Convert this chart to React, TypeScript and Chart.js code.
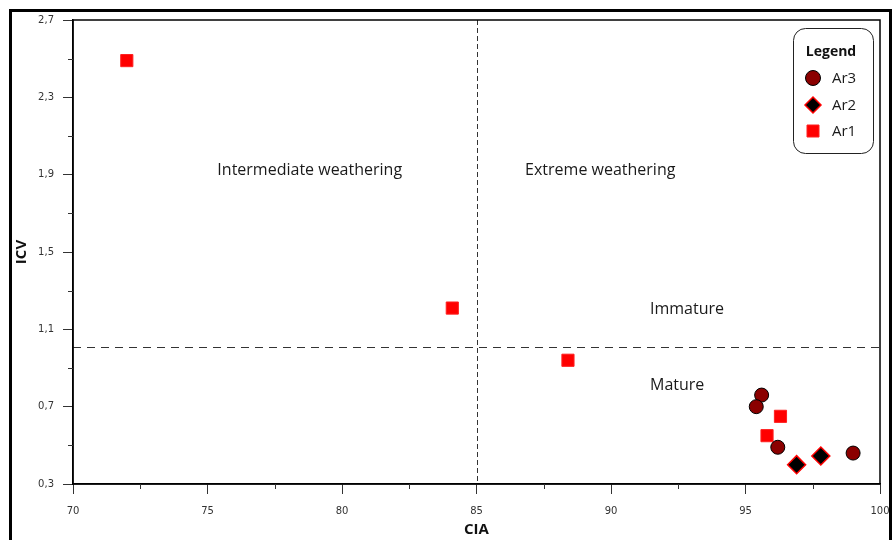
import { useEffect, useRef } from 'react';
import { Chart, registerables } from 'chart.js';

Chart.register(...registerables);

// ---- data ----
const SERIES_NAMES = ['Ar3', 'Ar2', 'Ar1'];
const AR3_CIA = [95.6, 95.4, 96.2, 99.0];
const AR3_ICV = [0.76, 0.70, 0.49, 0.46];
const AR2_CIA = [96.9, 97.8];
const AR2_ICV = [0.40, 0.445];
const AR1_CIA = [72.0, 84.1, 88.4, 96.3, 95.8];
const AR1_ICV = [2.49, 1.21, 0.94, 0.65, 0.55];

const X_MAJOR_TICKS = [70, 75, 80, 85, 90, 95, 100];
const X_TICK_LABELS = ['70', '75', '80', '85', '90', '95', '100'];
const Y_MAJOR_TICKS = [0.3, 0.7, 1.1, 1.5, 1.9, 2.3, 2.7];
const Y_TICK_LABELS = ['0,3', '0,7', '1,1', '1,5', '1,9', '2,3', '2,7'];

const CIA_LIMIT = 85;
const ICV_LIMIT = 1.01;
const ZONE_LABELS = ['Intermediate weathering', 'Extreme weathering', 'Immature', 'Mature'];
const X_TITLE = 'CIA';
const Y_TITLE = 'ICV';
const LEGEND_TITLE = 'Legend';

// major + minor tick values (minor halfway between majors)
const withMinors = (majors: number[]) => {
  const out: number[] = [];
  majors.forEach((v, i) => {
    out.push(v);
    if (i < majors.length - 1) out.push((v + majors[i + 1]) / 2);
  });
  return out;
};
const X_ALL_TICKS = withMinors(X_MAJOR_TICKS);
const Y_ALL_TICKS = withMinors(Y_MAJOR_TICKS);

const TEXT_FONT = '"Open Sans", "Liberation Sans", sans-serif';
const TICK_FONT = '"DejaVu Sans", sans-serif';

const styles: Record<string, any> = {
  Ar3: { pointStyle: 'circle', pointRadius: 7, bg: '#8B0000', border: '#000000', bw: 1 },
  Ar2: { pointStyle: 'rectRot', pointRadius: 9, bg: '#000000', border: '#FF0000', bw: 1.5 },
  Ar1: { pointStyle: 'rect', pointRadius: 8.6, bg: '#FF0000', border: '#FF2020', bw: 1 },
};

const decorPlugin = {
  id: 'decor',
  beforeDraw(chart: any) {
    const { ctx, width, height } = chart;
    ctx.save();
    ctx.fillStyle = '#ffffff';
    ctx.fillRect(0, 0, width, height);
    ctx.restore();
  },
  beforeDatasetsDraw(chart: any) {
    const { ctx, chartArea: a, scales } = chart;
    const xs = scales.x;
    const ys = scales.y;
    ctx.save();
    ctx.strokeStyle = '#333333';
    ctx.lineWidth = 1;
    // vertical boundary
    const vx = Math.round(xs.getPixelForValue(CIA_LIMIT)) + 0.5;
    ctx.setLineDash([5, 3]);
    ctx.beginPath();
    ctx.moveTo(vx, a.top);
    ctx.lineTo(vx, a.bottom);
    ctx.stroke();
    // horizontal boundary
    const hy = Math.round(ys.getPixelForValue(ICV_LIMIT)) + 0.5;
    ctx.setLineDash([8, 6]);
    ctx.beginPath();
    ctx.moveTo(a.left, hy);
    ctx.lineTo(a.right, hy);
    ctx.stroke();
    ctx.setLineDash([]);

    // zone labels
    ctx.fillStyle = '#1a1a1a';
    ctx.font = `16px ${TEXT_FONT}`;
    ctx.textBaseline = 'middle';
    ctx.textAlign = 'center';
    ctx.fillText(ZONE_LABELS[0], xs.getPixelForValue(78.8), ys.getPixelForValue(1.92));
    ctx.fillText(ZONE_LABELS[1], xs.getPixelForValue(89.6), ys.getPixelForValue(1.92));
    ctx.textAlign = 'left';
    ctx.fillText(ZONE_LABELS[2], xs.getPixelForValue(91.45), ys.getPixelForValue(1.205));
    ctx.fillText(ZONE_LABELS[3], xs.getPixelForValue(91.45), ys.getPixelForValue(0.81));
    ctx.restore();
  },
  afterDraw(chart: any) {
    const { ctx, chartArea: a, scales } = chart;
    ctx.save();
    // plot box
    ctx.strokeStyle = '#000000';
    ctx.lineWidth = 1.5;
    ctx.strokeRect(a.left, a.top, a.right - a.left, a.bottom - a.top);

    // minor ticks
    ctx.lineWidth = 1;
    ctx.strokeStyle = '#333333';
    scales.x.ticks.forEach((t: any, i: number) => {
      if (i % 2 === 1) {
        const px = Math.round(scales.x.getPixelForValue(t.value)) + 0.5;
        ctx.beginPath();
        ctx.moveTo(px, a.bottom);
        ctx.lineTo(px, a.bottom + 5);
        ctx.stroke();
      }
    });
    scales.y.ticks.forEach((t: any, i: number) => {
      if (i % 2 === 1) {
        const py = Math.round(scales.y.getPixelForValue(t.value)) + 0.5;
        ctx.beginPath();
        ctx.moveTo(a.left, py);
        ctx.lineTo(a.left - 5, py);
        ctx.stroke();
      }
    });

    // outer frame
    ctx.strokeStyle = '#000000';
    ctx.lineWidth = 3;
    ctx.strokeRect(10.5, 10.5, 880, 600);

    // legend box
    const lx = 793.5, ly = 28.5, lw = 80, lh = 125, r = 12;
    ctx.lineWidth = 1;
    ctx.strokeStyle = '#222222';
    ctx.fillStyle = '#ffffff';
    ctx.beginPath();
    ctx.moveTo(lx + r, ly);
    ctx.lineTo(lx + lw - r, ly);
    ctx.arcTo(lx + lw, ly, lx + lw, ly + r, r);
    ctx.lineTo(lx + lw, ly + lh - r);
    ctx.arcTo(lx + lw, ly + lh, lx + lw - r, ly + lh, r);
    ctx.lineTo(lx + r, ly + lh);
    ctx.arcTo(lx, ly + lh, lx, ly + lh - r, r);
    ctx.lineTo(lx, ly + r);
    ctx.arcTo(lx, ly, lx + r, ly, r);
    ctx.closePath();
    ctx.fill();
    ctx.stroke();

    ctx.fillStyle = '#111111';
    ctx.font = `bold 14px ${TEXT_FONT}`;
    ctx.textAlign = 'center';
    ctx.textBaseline = 'middle';
    ctx.fillText(LEGEND_TITLE, 831, 52);

    const mx = 813;
    const rowY = [78, 105, 131];
    SERIES_NAMES.forEach((name, i) => {
      const s = styles[name];
      const cy = rowY[i];
      ctx.fillStyle = s.bg;
      ctx.strokeStyle = s.border;
      ctx.lineWidth = s.bw;
      ctx.beginPath();
      if (s.pointStyle === 'circle') {
        ctx.arc(mx, cy, 7.5, 0, Math.PI * 2);
      } else if (s.pointStyle === 'rectRot') {
        const d = 8;
        ctx.moveTo(mx - d, cy);
        ctx.lineTo(mx, cy - d);
        ctx.lineTo(mx + d, cy);
        ctx.lineTo(mx, cy + d);
        ctx.closePath();
      } else {
        ctx.rect(mx - 6, cy - 6, 12, 12);
      }
      ctx.fill();
      ctx.stroke();
      ctx.fillStyle = '#1a1a1a';
      ctx.font = `15px ${TEXT_FONT}`;
      ctx.textAlign = 'left';
      ctx.fillText(name, 832, cy + 1);
    });
    ctx.restore();
  },
};

export default function App() {
  const canvasRef = useRef<HTMLCanvasElement | null>(null);

  useEffect(() => {
    const canvas = canvasRef.current;
    if (!canvas) return;
    const series = [
      { name: 'Ar3', xs: AR3_CIA, ys: AR3_ICV },
      { name: 'Ar2', xs: AR2_CIA, ys: AR2_ICV },
      { name: 'Ar1', xs: AR1_CIA, ys: AR1_ICV },
    ];
    const chart = new Chart(canvas, {
      type: 'scatter',
      data: {
        datasets: series.map((s) => {
          const st = styles[s.name];
          return {
            label: s.name,
            data: s.xs.map((x, i) => ({ x, y: s.ys[i] })),
            pointStyle: st.pointStyle,
            pointRadius: st.pointRadius,
            pointHoverRadius: st.pointRadius,
            pointBackgroundColor: st.bg,
            pointBorderColor: st.border,
            pointBorderWidth: st.bw,
            backgroundColor: st.bg,
            borderColor: st.border,
          };
        }),
      },
      options: {
        animation: false,
        responsive: false,
        devicePixelRatio: 1,
        layout: { padding: { left: 12, top: 20, right: 13, bottom: 0 } },
        plugins: {
          legend: { display: false },
          tooltip: { enabled: false },
        },
        scales: {
          x: {
            type: 'linear',
            min: 70,
            max: 100,
            afterBuildTicks: (s: any) => {
              s.ticks = X_ALL_TICKS.map((v) => ({ value: v }));
            },
            afterFit: (s: any) => {
              s.height = 56;
              s.paddingLeft = 0;
              s.paddingRight = 0;
            },
            ticks: {
              autoSkip: false,
              maxRotation: 0,
              padding: 11,
              color: '#333333',
              font: { family: TICK_FONT, size: 10 },
              callback: (_v: any, i: number) => (i % 2 === 0 ? X_TICK_LABELS[i / 2] : ''),
            },
            grid: {
              drawOnChartArea: false,
              tickLength: 10,
              tickColor: (c: any) => (c.index % 2 === 0 ? '#333333' : 'rgba(0,0,0,0)'),
            },
            border: { display: true, color: '#000000', width: 1.5 },
            title: {
              display: true,
              text: X_TITLE,
              color: '#111111',
              font: { family: TEXT_FONT, size: 15, weight: 'bold' },
              padding: { top: 0, bottom: 1 },
            },
          },
          y: {
            type: 'linear',
            min: 0.3,
            max: 2.7,
            afterBuildTicks: (s: any) => {
              s.ticks = Y_ALL_TICKS.map((v) => ({ value: v }));
            },
            afterFit: (s: any) => {
              s.width = 61;
            },
            ticks: {
              autoSkip: false,
              padding: 9,
              color: '#333333',
              font: { family: TICK_FONT, size: 10 },
              callback: (_v: any, i: number) => (i % 2 === 0 ? Y_TICK_LABELS[i / 2] : ''),
            },
            grid: {
              drawOnChartArea: false,
              tickLength: 10,
              tickColor: (c: any) => (c.index % 2 === 0 ? '#333333' : 'rgba(0,0,0,0)'),
            },
            border: { display: true, color: '#000000', width: 1.5 },
            title: {
              display: true,
              text: Y_TITLE,
              color: '#111111',
              font: { family: TEXT_FONT, size: 15, weight: 'bold' },
              padding: { top: 1, bottom: 0 },
            },
          },
        },
      },
      plugins: [decorPlugin],
    } as any);
    return () => chart.destroy();
  }, []);

  return (
    <div style={{ position: 'absolute', left: 0, top: 0, width: 893, height: 540, overflow: 'hidden' }}>
      <canvas ref={canvasRef} width={893} height={540} style={{ display: 'block' }} />
    </div>
  );
}
